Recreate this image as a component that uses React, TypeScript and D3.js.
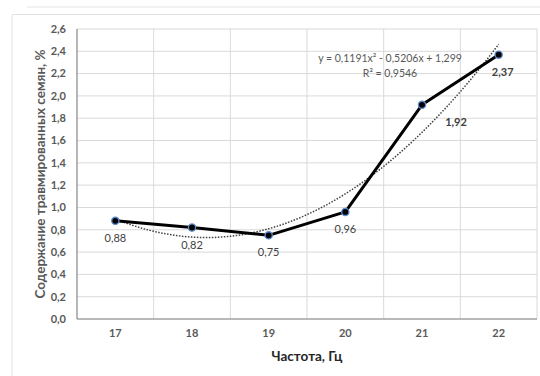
import React from "react";
import * as d3 from "d3";

const categories = ["17", "18", "19", "20", "21", "22"];
const values = [0.88, 0.82, 0.75, 0.96, 1.92, 2.37];
const valueLabels = ["0,88", "0,82", "0,75", "0,96", "1,92", "2,37"];
const yTicks = [0, 0.2, 0.4, 0.6, 0.8, 1.0, 1.2, 1.4, 1.6, 1.8, 2.0, 2.2, 2.4, 2.6];
const trendCoef = [0.1191, -0.5206, 1.299];
const trendText = ["y = 0,1191x² - 0,5206x + 1,299", "R² = 0,9546"];
const xTitle = "Частота, Гц";
const yTitle = "Содержание травмированных семян, %";

export default function App() {
  const W = 540, H = 376;
  const left = 77, right = 537, top = 29, bottom = 319;
  const x = d3.scaleBand().domain(categories).range([left, right]).padding(0);
  const y = d3.scaleLinear().domain([0, 2.6]).range([bottom, top]);
  const cx = (c: string) => (x(c) as number) + x.bandwidth() / 2;
  const font = "Lato, 'Open Sans', sans-serif";
  const gray = "#595959";

  const xi = d3.scaleLinear().domain([1, 6]).range([cx(categories[0]), cx(categories[5])]);
  const trendPts: [number, number][] = d3.range(0, 101).map((i) => {
    const t = 1 + (5 * i) / 100;
    const v = trendCoef[0] * t * t + trendCoef[1] * t + trendCoef[2];
    return [xi(t), y(v)];
  });
  const line = d3.line<[number, number]>();
  const dataPts: [number, number][] = values.map((v, i) => [cx(categories[i]), y(v)]);
  const labelDx = [0, 0, 0, 0, 34, 4];
  const fmt = (v: number) => v.toFixed(1).replace(".", ",");

  return (
    <svg width={W} height={H} style={{ position: "absolute", left: 0, top: 0, background: "#fff" }}>
      <rect x={0} y={0} width={W} height={H} fill="#fff" />
      <line x1={27} x2={W} y1={7} y2={7} stroke="#e3e3e3" />
      <line x1={12} x2={W} y1={14.5} y2={14.5} stroke="#e3e3e3" />
      <line x1={12} x2={12} y1={14.5} y2={H} stroke="#e3e3e3" />
      {yTicks.map((t) => (
        <line key={"g" + t} x1={left} x2={right} y1={y(t)} y2={y(t)} stroke="#d9d9d9" />
      ))}
      {categories.map((c, i) => (
        <line key={"v" + c} x1={(x(c) as number) + x.bandwidth()} x2={(x(c) as number) + x.bandwidth()} y1={top} y2={bottom} stroke="#d9d9d9" />
      ))}
      <line x1={left} x2={left} y1={top} y2={bottom} stroke="#868686" strokeWidth={1.2} />
      <line x1={left} x2={right} y1={bottom} y2={bottom} stroke="#868686" strokeWidth={1.2} />
      {yTicks.map((t) => (
        <text key={"yl" + t} x={66} y={y(t)} dy="0.35em" textAnchor="end" fontFamily={font} fontWeight="bold" fontSize={11} fill={gray}>
          {fmt(t)}
        </text>
      ))}
      {categories.map((c) => (
        <text key={"xl" + c} x={cx(c)} y={337} textAnchor="middle" fontFamily={font} fontWeight="bold" fontSize={11} fill={gray}>
          {c}
        </text>
      ))}
      <text x={307} y={361} textAnchor="middle" fontFamily={font} fontWeight="bold" fontSize={13.5} fill="#262626">
        {xTitle}
      </text>
      <text transform={`translate(45,${(38 + 310) / 2}) rotate(-90)`} textAnchor="middle" fontFamily={font} fontWeight="bold" fontSize={13.5} fill={gray}>
        {yTitle}
      </text>
      <path d={line(trendPts) || ""} fill="none" stroke="#404040" strokeWidth={1.5} strokeDasharray="1.5 1.5" />
      <path d={line(dataPts) || ""} fill="none" stroke="#000" strokeWidth={3} strokeLinejoin="round" />
      {dataPts.map((p, i) => (
        <circle key={"p" + i} cx={p[0]} cy={p[1]} r={3.6} fill="#000" stroke="#5b8bd0" strokeWidth={1.3} />
      ))}
      {dataPts.map((p, i) => (
        <text key={"dl" + i} x={p[0] + labelDx[i]} y={p[1] + 21} textAnchor="middle" fontFamily={font} fontSize={11} fill="#404040" fontWeight={i >= 4 ? "bold" : "normal"}>
          {valueLabels[i]}
        </text>
      ))}
      <text x={390} y={62} textAnchor="middle" fontFamily={font} fontSize={10.5} fill={gray}>
        {trendText[0]}
      </text>
      <text x={390} y={77} textAnchor="middle" fontFamily={font} fontSize={10.5} fill={gray}>
        {trendText[1]}
      </text>
    </svg>
  );
}
